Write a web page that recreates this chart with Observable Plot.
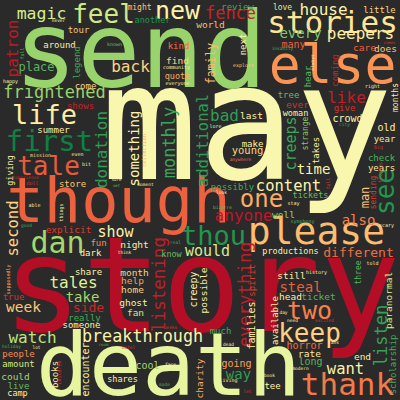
<!DOCTYPE html>
<html>
<head>
<meta charset="utf-8">
<script src="https://cdn.jsdelivr.net/npm/d3@7"></script>
<script src="https://cdn.jsdelivr.net/npm/@observablehq/plot@0.6"></script>
<style>
  html, body { margin: 0; padding: 0; background: #2a2a2a; }
</style>
</head>
<body>
<div id="chart"></div>
<script>
// [word, x, y(baseline), weight(px), vertical(1=reads upward), tone(0..1 on RdYlGn)]
const largeWords = [
  ["may", 246, 178, 162, 0, 0.5],
  ["story", 201, 330, 132, 0, 0.03],
  ["send", 140, 86, 105, 0, 0.72],
  ["death", 168, 394, 88, 0, 0.56],
  ["though", 118, 221, 62, 0, 0.18],
  ["else", 332, 82, 53, 0, 0.26],
  ["please", 316, 243, 38, 0, 0.33],
  ["stories", 332, 32, 31, 0, 0.42],
  ["thank", 347, 394, 31, 0, 0.22],
  ["dan", 57, 252, 30, 0, 0.7],
  ["first", 49, 150, 29, 0, 0.95],
  ["thou", 213, 244, 27, 0, 0.9],
  ["life", 44, 123, 27, 0, 0.45],
  ["keep", 309, 341, 26, 0, 0.37],
  ["feel", 103, 22, 26, 0, 0.62],
  ["tale", 48, 174, 26, 0, 0.17],
  ["see", 393, 191, 26, 1, 0.9],
  ["two", 309, 318, 25, 0, 0.23],
  ["new", 177, 18, 25, 0, 0.47],
  ["one", 261, 206, 24, 0, 0.3]
];

const mediumWords = [
  ["frightened", 54, 97, 17, 0, 0.72],
  ["fence", 230, 18, 17, 0, 0.07],
  ["everything", 250, 294, 17.5, 1, 0.06],
  ["listening", 164, 284, 17.5, 1, 0.06],
  ["listen", 386, 335, 17, 1, 0.87],
  ["monthly", 174, 142, 17, 1, 0.86],
  ["breakthrough", 142, 341, 16.8, 0, 0.47],
  ["anyone", 243, 220, 16, 0, 0.05],
  ["like", 346, 102, 16, 0, 0.06],
  ["bad", 224, 120, 16, 0, 0.88],
  ["donation", 106, 149, 16, 1, 0.88],
  ["tales", 73, 287, 16, 0, 0.58],
  ["watch", 32, 342, 16, 0, 0.65],
  ["peepers", 360, 38, 16, 0, 0.45],
  ["house", 323, 14, 16, 0, 0.47],
  ["magic", 41, 18, 16.5, 0, 0.6],
  ["patron", 17, 48, 16, 1, 0.05],
  ["back", 130, 71, 16, 0, 0.38],
  ["second", 17, 228, 15.5, 1, 0.38],
  ["additional", 207, 140, 15.5, 1, 0.88],
  ["content", 288, 190, 15.5, 0, 0.48],
  ["want", 345, 373, 15.5, 0, 0.47],
  ["show", 115, 236, 15, 0, 0.47],
  ["would", 207, 255, 15, 0, 0.6],
  ["creeps", 295, 143, 15, 1, 0.86],
  ["week", 23, 311, 14.5, 0, 0.35],
  ["something", 138, 148, 14, 1, 0.47],
  ["every", 300, 37, 14, 0, 0.76],
  ["time", 313, 173, 14, 0, 0.47],
  ["also", 358, 224, 14, 0, 0.23],
  ["take", 82, 301, 14, 0, 0.7],
  ["steal", 300, 291, 14, 0, 0.18],
  ["way", 238, 378, 14, 0, 0.88],
  ["side", 88, 311, 13, 0, 0.08],
  ["different", 358, 256, 13, 0, 0.2],
  ["family", 214, 63, 11.5, 1, 0.33],
  ["man", 368, 197, 12, 1, 0.35],
  ["place", 36, 70, 12, 0, 0.82]
];

const smallWords = [
  ["review", 237, 9, 9, 0, 0.85],
  ["another", 152, 22, 8.5, 0, 0.9],
  ["might", 139, 9, 8, 0, 0.35],
  ["world", 210, 27, 9.5, 0, 0.33],
  ["kind", 178, 48, 9, 0, 0.2],
  ["find", 177, 63, 9.5, 0, 0.38],
  ["quote", 177, 78, 8.5, 0, 0.3],
  ["next", 245, 44, 9, 1, 0.47],
  ["tour", 78, 32, 9, 0, 0.35],
  ["around", 59, 47, 9, 0, 0.45],
  ["legend", 79, 62, 9, 1, 0.85],
  ["come", 85, 88, 9, 0, 0.38],
  ["shows", 80, 108, 9, 0, 0.07],
  ["summer", 53, 132, 9, 0, 0.45],
  ["giving", 12, 170, 8.5, 1, 0.47],
  ["store", 72, 186, 9, 0, 0.35],
  ["explicit", 68, 232, 9.5, 0, 0.12],
  ["fun", 98, 245, 9, 0, 0.25],
  ["night", 134, 247, 9.5, 0, 0.45],
  ["dark", 90, 255, 9, 0, 0.47],
  ["know", 171, 256, 8.5, 0, 0.8],
  ["possibly", 232, 189, 9, 0, 0.85],
  ["make", 252, 146, 9, 0, 0.47],
  ["young", 247, 153, 10.5, 0, 0.38],
  ["last", 251, 118, 9.5, 0, 0.47],
  ["tree", 288, 97, 9, 0, 0.8],
  ["ever", 297, 107, 9.5, 0, 0.1],
  ["woman", 295, 115, 8.5, 0, 0.47],
  ["give", 344, 110, 9, 0, 0.1],
  ["crowd", 347, 121, 10, 0, 0.47],
  ["old", 386, 130, 10, 0, 0.45],
  ["months", 397, 97, 8, 1, 0.45],
  ["hear", 310, 76, 9, 1, 0.82],
  ["coming", 337, 70, 9, 1, 0.08],
  ["many", 293, 47, 10, 0, 0.18],
  ["care", 364, 50, 9.5, 0, 0.18],
  ["does", 385, 51, 9.5, 0, 0.35],
  ["love", 282, 9, 8, 0, 0.6],
  ["little", 379, 12, 9, 0, 0.38],
  ["strange", 307, 133, 8, 1, 0.75],
  ["takes", 318, 150, 9, 1, 0.45],
  ["tickets", 310, 197, 8.5, 0, 0.8],
  ["well", 283, 217, 9.5, 0, 0.72],
  ["check", 381, 160, 9, 0, 0.83],
  ["years", 381, 170, 9, 0, 0.42],
  ["year", 384, 141, 9, 0, 0.42],
  ["sending", 375, 192, 8, 1, 0.12],
  ["productions", 290, 253, 8.5, 0, 0.47],
  ["share", 88, 274, 9, 0, 0.47],
  ["true", 13, 299, 9, 0, 0.1],
  ["really", 84, 320, 9, 0, 0.85],
  ["someone", 81, 327, 9, 0, 0.47],
  ["people", 18, 356, 9, 0, 0.25],
  ["amount", 18, 366, 9, 0, 0.62],
  ["could", 15, 379, 9.5, 0, 0.7],
  ["live", 18, 388, 9, 0, 0.8],
  ["camp", 17, 395, 8.5, 0, 0.45],
  ["books", 57, 374, 9, 1, 0.45],
  ["encounter", 88, 369, 10, 1, 0.47],
  ["shares", 122, 381, 8.5, 0, 0.47],
  ["month", 134, 275, 9.5, 0, 0.38],
  ["help", 132, 283, 9.5, 0, 0.28],
  ["home", 132, 292, 9.5, 0, 0.38],
  ["ghost", 133, 305, 9.5, 0, 0.45],
  ["fan", 135, 315, 9.5, 0, 0.62],
  ["creepy", 196, 289, 10, 1, 0.45],
  ["possible", 206, 290, 9.5, 1, 0.45],
  ["spirit", 254, 280, 9, 1, 0.12],
  ["families", 254, 325, 10, 1, 0.45],
  ["much", 220, 333, 9, 0, 0.85],
  ["going", 236, 366, 10, 0, 0.28],
  ["charity", 202, 378, 9.5, 1, 0.3],
  ["cool", 147, 368, 10, 0, 0.7],
  ["tee", 272, 388, 9, 0, 0.47],
  ["still", 291, 278, 9.5, 0, 0.45],
  ["three", 360, 272, 8, 1, 0.82],
  ["head", 290, 299, 9.5, 0, 0.45],
  ["ticket", 318, 299, 9.5, 0, 0.82],
  ["paranormal", 391, 300, 9.5, 1, 0.6],
  ["scholarship", 395, 364, 9, 1, 0.85],
  ["available", 277, 320, 9, 1, 0.45],
  ["horror", 304, 348, 10, 0, 0.2],
  ["rate", 309, 356, 9.5, 0, 0.45],
  ["long", 310, 364, 10, 0, 0.82],
  ["end", 362, 359, 9.5, 0, 0.45]
];

const tinyWords = [
  ["never", 58, 21, 4.5, 0, 0.5],
  ["community", 176, 68, 5, 0, 0.45],
  ["everyone", 177, 84, 5, 0, 0.45],
  ["explore", 243, 66, 5, 0, 0.35],
  ["known", 114, 45, 5, 0, 0.8],
  ["full", 23, 53, 5, 1, 0.85],
  ["happy", 10, 82, 5, 0, 0.5],
  ["mission", 40, 156, 5, 0, 0.4],
  ["even", 77, 155, 5, 0, 0.45],
  ["bit", 86, 165, 5, 0, 0.45],
  ["experience", 25, 178, 4.5, 0, 0.08],
  ["doll", 32, 184, 5, 0, 0.1],
  ["sure", 116, 180, 4, 0, 0.45],
  ["set", 116, 186, 4, 0, 0.8],
  ["able", 34, 206, 5, 0, 0.45],
  ["things", 62, 212, 5, 1, 0.45],
  ["good", 26, 226, 4.5, 0, 0.85],
  ["think", 124, 253, 4.5, 0, 0.45],
  ["real", 175, 243, 4.5, 0, 0.85],
  ["collection", 145, 150, 5.5, 1, 0.3],
  ["moment", 145, 185, 4.5, 0, 0.45],
  ["look", 221, 193, 4.5, 0, 0.45],
  ["bizarre", 222, 208, 4.5, 0, 0.8],
  ["anywhere", 240, 160, 4.5, 0, 0.2],
  ["lore", 215, 127, 5, 0, 0.45],
  ["insanity", 282, 49, 4.5, 0, 0.85],
  ["comes", 389, 43, 4, 0, 0.1],
  ["always", 313, 62, 4.5, 1, 0.45],
  ["right", 372, 87, 5, 0, 0.45],
  ["big", 378, 148, 5, 0, 0.1],
  ["city", 344, 125, 4.5, 0, 0.85],
  ["friends", 381, 172, 5, 1, 0.1],
  ["fall", 329, 183, 5, 1, 0.1],
  ["stay", 293, 204, 5, 0, 0.45],
  ["symphony", 302, 222, 5, 0, 0.85],
  ["scary", 386, 226, 5, 0, 0.45],
  ["told", 372, 264, 5, 0, 0.45],
  ["history", 316, 273, 5, 0, 0.45],
  ["day", 283, 313, 4.5, 0, 0.45],
  ["need", 292, 321, 4.5, 0, 0.45],
  ["excited", 324, 321, 4.5, 0, 0.1],
  ["fans", 333, 343, 4.5, 0, 0.45],
  ["modern", 300, 369, 4.5, 0, 0.45],
  ["book", 269, 376, 4.5, 0, 0.45],
  ["let", 247, 392, 4.5, 0, 0.1],
  ["living", 228, 381, 5, 0, 0.45],
  ["dead", 228, 345, 4.5, 0, 0.45],
  ["made", 164, 385, 4.5, 0, 0.85],
  ["face", 170, 365, 4.5, 0, 0.45],
  ["weeks", 170, 328, 4.5, 0, 0.1],
  ["hotel", 128, 348, 4.5, 0, 0.1],
  ["room", 103, 345, 4, 0, 0.85],
  ["lot", 36, 348, 4.5, 0, 0.45],
  ["holiday", 11, 347, 4.5, 0, 0.85],
  ["children", 60, 372, 5, 1, 0.1],
  ["supposedly", 9, 279, 5, 1, 0.3]
];

const cloud = [...largeWords, ...mediumWords, ...smallWords, ...tinyWords].map(
  ([word, x, y, weight, vertical, tone]) => ({word, x, y, weight, vertical, tone})
);

const chart = Plot.plot({
  width: 400,
  height: 400,
  margin: 0,
  style: {background: "#2a2a2a"},
  x: {domain: [0, 400], range: [0, 400], axis: null},
  y: {domain: [0, 400], range: [0, 400], axis: null},
  color: {type: "linear", scheme: "RdYlGn", domain: [0, 1]},
  marks: [
    Plot.text(cloud, {
      x: "x",
      y: "y",
      text: "word",
      fontSize: d => d.weight,
      rotate: d => (d.vertical ? -90 : 0),
      fill: "tone",
      textAnchor: "middle",
      lineAnchor: "bottom",
      fontFamily: "DejaVu Sans Mono"
    })
  ]
});
document.getElementById("chart").appendChild(chart);
</script>
</body>
</html>
